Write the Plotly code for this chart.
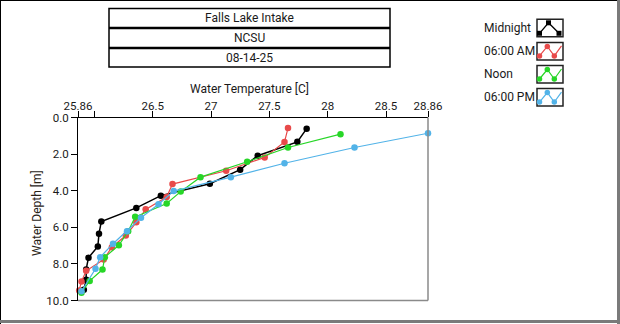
import plotly.graph_objects as go

W, H = 620, 324

# ---------------- data ----------------
series_names = ["Midnight", "06:00 AM", "Noon", "06:00 PM"]

midnight_temp = [27.82, 27.74, 27.40, 27.25, 26.99, 26.57, 26.36, 26.06, 26.04, 26.03, 25.95, 25.93, 25.93, 25.91]
midnight_depth = [0.61, 1.33, 2.09, 2.85, 3.62, 4.27, 4.94, 5.68, 6.35, 7.05, 7.66, 8.30, 8.87, 9.41]

am_temp = [27.66, 27.63, 27.46, 27.13, 26.67, 26.62, 26.44, 26.36, 26.27, 26.15, 26.08, 25.93, 25.89, 25.87]
am_depth = [0.58, 1.34, 2.18, 2.91, 3.64, 4.35, 5.02, 5.73, 6.45, 7.09, 7.76, 8.38, 8.96, 9.45]

noon_temp = [28.11, 27.66, 27.31, 26.91, 26.74, 26.62, 26.35, 26.29, 26.21, 26.09, 26.07, 25.96, 25.89]
noon_depth = [0.91, 1.64, 2.42, 3.26, 4.05, 4.70, 5.43, 6.21, 6.98, 7.63, 8.31, 8.93, 9.57]

pm_temp = [28.86, 28.23, 27.63, 27.17, 26.68, 26.55, 26.40, 26.28, 26.16, 26.05, 26.01, 25.89]
pm_depth = [0.86, 1.64, 2.50, 3.26, 4.02, 4.74, 5.48, 6.21, 6.90, 7.63, 8.27, 9.50]

x_tickvals = [25.86, 26.0, 26.5, 27.0, 27.5, 28.0, 28.5, 28.86]
x_ticktext = ["25.86", "", "26.5", "27", "27.5", "28", "28.5", "28.86"]
y_tickvals = [0, 2, 4, 6, 8, 10]
y_ticktext = ["0.0", "2.0", "4.0", "6.0", "8.0", "10.0"]

title_rows = ["Falls Lake Intake", "NCSU", "08-14-25"]
x_title = "Water Temperature [C]"
y_title = "Water Depth [m]"

colors = ["#000000", "#e84a4a", "#27d627", "#52b3e8"]
FONT = "Roboto"
TXT = "#1a1a1a"

# ---------------- figure ----------------
fig = go.Figure()

data = [(midnight_temp, midnight_depth), (am_temp, am_depth),
        (noon_temp, noon_depth), (pm_temp, pm_depth)]
for (t, d), name, c in zip(data, series_names, colors):
    fig.add_trace(go.Scatter(
        x=t, y=d, name=name, mode="lines+markers",
        line=dict(color=c, width=1.5 if c == "#000000" else 1.2),
        marker=dict(color=c, size=6.5, symbol="circle"),
        cliponaxis=False, showlegend=False,
    ))

def px(x):
    return x / W

def py(y):
    return 1 - y / H

L, R, T, B = 78, 428, 117.5, 300.5

fig.update_layout(
    template="none",
    width=W, height=H, autosize=False,
    margin=dict(l=0, r=0, t=0, b=0, pad=0, autoexpand=False),
    paper_bgcolor="white", plot_bgcolor="rgba(0,0,0,0)",
    font=dict(family=FONT, size=12, color=TXT),
    showlegend=False,
    xaxis=dict(
        domain=[px(L), px(R)], range=[25.86, 28.86], side="top",
        tickvals=x_tickvals, ticktext=x_ticktext, automargin=False,
        ticks="outside", ticklen=6, tickcolor="#000", tickwidth=1,
        showgrid=False, zeroline=False,
        showline=True, linecolor="#000", linewidth=1,
        tickfont=dict(size=11.5, color=TXT),
    ),
    yaxis=dict(
        domain=[py(B), py(T)], range=[10, 0], automargin=False,
        tickvals=y_tickvals, ticktext=y_ticktext,
        ticks="outside", ticklen=6, tickcolor="#000", tickwidth=1,
        showgrid=False, zeroline=False,
        showline=True, linecolor="#000", linewidth=1,
        tickfont=dict(size=11.5, color=TXT),
    ),
    xaxis2=dict(domain=[0, 1], range=[0, W], visible=False, fixedrange=True, automargin=False),
    yaxis2=dict(domain=[0, 1], range=[H, 0], visible=False, fixedrange=True, automargin=False),
)
try:
    fig.update_layout(xaxis_ticklabelstandoff=-4)
except Exception:
    pass

shapes = []
# plot frame right/bottom gray
shapes.append(dict(type="line", xref="paper", yref="paper", x0=px(R), x1=px(R), y0=py(T), y1=py(B),
                   line=dict(color="#8a8a8a", width=1.5)))
shapes.append(dict(type="line", xref="paper", yref="paper", x0=px(L), x1=px(R), y0=py(B), y1=py(B),
                   line=dict(color="#8a8a8a", width=1.5)))
# outer window frame
shapes.append(dict(type="line", xref="paper", yref="paper", x0=0, x1=1, y0=py(0.5), y1=py(0.5),
                   line=dict(color="#000", width=1)))
shapes.append(dict(type="line", xref="paper", yref="paper", x0=px(0.5), x1=px(0.5), y0=0, y1=1,
                   line=dict(color="#000", width=1)))
shapes.append(dict(type="line", xref="paper", yref="paper", x0=px(618.5), x1=px(618.5), y0=0, y1=1,
                   line=dict(color="#7a7a7a", width=3)))
shapes.append(dict(type="line", xref="paper", yref="paper", x0=0, x1=1, y0=py(321.5), y1=py(321.5),
                   line=dict(color="#7a7a7a", width=3)))

# title table
TL, TR, TT, TB = 109, 390, 8.5, 67
shapes.append(dict(type="rect", xref="paper", yref="paper", x0=px(TL), x1=px(TR), y0=py(TT), y1=py(TB),
                   line=dict(color="#000", width=1.5)))
row_edges = [8.5, 28, 48, 67]
for ysep in row_edges[1:-1]:
    shapes.append(dict(type="line", xref="paper", yref="paper", x0=px(TL), x1=px(TR), y0=py(ysep), y1=py(ysep),
                       line=dict(color="#000", width=2.5)))

annotations = []
for i, txt in enumerate(title_rows):
    yc = (row_edges[i] + row_edges[i + 1]) / 2
    annotations.append(dict(text=txt, xref="paper", yref="paper", x=px((TL + TR) / 2), y=py(yc),
                            showarrow=False, xanchor="center", yanchor="middle",
                            font=dict(size=12, color=TXT, family=FONT)))

# axis titles
annotations.append(dict(text=x_title, xref="paper", yref="paper", x=px(250), y=py(89),
                        showarrow=False, xanchor="center", yanchor="middle",
                        font=dict(size=12, color=TXT, family=FONT)))
annotations.append(dict(text=y_title, xref="paper", yref="paper", x=px(37), y=py(213),
                        showarrow=False, xanchor="center", yanchor="middle", textangle=-90,
                        font=dict(size=12, color="#2a2418", family=FONT)))

# custom legend
LX0, LX1 = 537, 563
for i, (name, c) in enumerate(zip(series_names, colors)):
    top = 19.3 + i * 23.1
    bot = top + 17.5
    shapes.append(dict(type="rect", xref="paper", yref="paper", x0=px(LX0), x1=px(LX1), y0=py(top), y1=py(bot),
                       line=dict(color="#222", width=1.5), layer="below"))
    annotations.append(dict(text=name, xref="paper", yref="paper", x=px(482), y=py((top + bot) / 2),
                            showarrow=False, xanchor="left", yanchor="middle",
                            font=dict(size=12, color=TXT, family=FONT)))
    if i == 0:
        xs = [539.5, 548.5, 559]
        ys = [bot - 3.5, top + 3.5, bot - 3.5]
        fig.add_trace(go.Scatter(x=xs, y=ys, xaxis="x2", yaxis="y2", mode="lines+markers",
                                 line=dict(color=c, width=1.3),
                                 marker=dict(color=c, size=5, symbol="square"),
                                 showlegend=False, hoverinfo="skip"))
    else:
        xs = [539.5, 547.3, 554.3, 561.5]
        ys = [bot - 4, top + 4, bot - 4, top + 3.5]
        fig.add_trace(go.Scatter(x=xs, y=ys, xaxis="x2", yaxis="y2", mode="lines",
                                 line=dict(color=c, width=1.2),
                                 showlegend=False, hoverinfo="skip"))
        fig.add_trace(go.Scatter(x=xs[:3], y=ys[:3], xaxis="x2", yaxis="y2", mode="markers",
                                 marker=dict(color=c, size=5.5, symbol="circle"),
                                 showlegend=False, hoverinfo="skip"))

fig.update_layout(shapes=shapes, annotations=annotations)

post = ("document.documentElement.style.margin='0';document.documentElement.style.padding='0';"
        "document.documentElement.style.overflow='hidden';"
        "document.body.style.margin='0';document.body.style.padding='0';document.body.style.overflow='hidden';")
fig.write_html("out.html", post_script=post, config={"displayModeBar": False, "responsive": False})
